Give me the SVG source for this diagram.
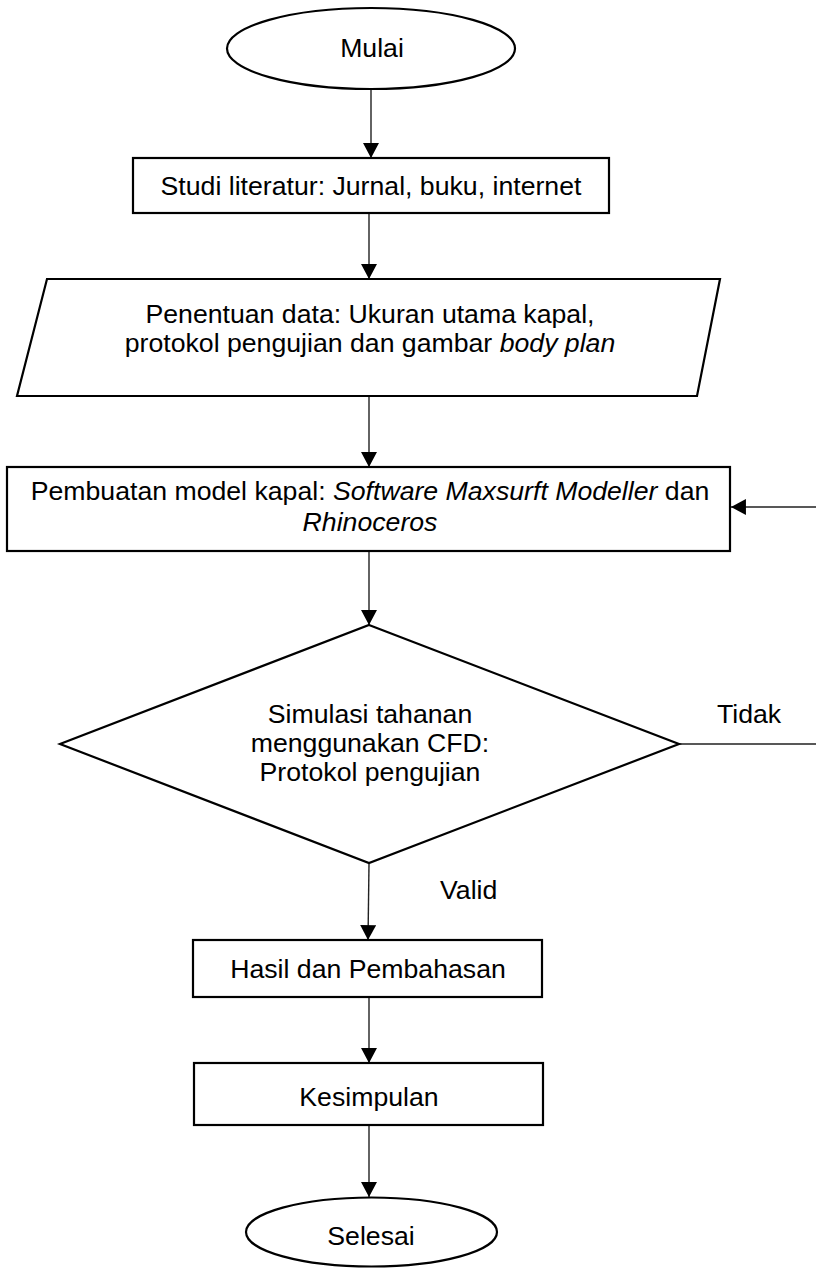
<svg xmlns="http://www.w3.org/2000/svg" width="816" height="1269" viewBox="0 0 816 1269">
  <style>
    .shape { fill: #ffffff; stroke: #000000; stroke-width: 2.2; }
    .label { font-family: "Liberation Sans", Arial, sans-serif; font-size: 26.67px; fill: #000000; text-anchor: middle; }
    .note { font-family: "Liberation Sans", Arial, sans-serif; font-size: 26.67px; fill: #000000; }
    .link { fill: none; stroke: #222222; stroke-width: 1.4; }
    .it { font-style: italic; }
  </style>
  <defs>
    <marker id="arrow" markerUnits="userSpaceOnUse" markerWidth="16" markerHeight="16" viewBox="0 0 14 15" refX="14" refY="7.5" orient="auto">
      <path d="M0,0 L14,7.5 L0,15 Z" fill="#000000"/>
    </marker>
  </defs>

  <rect x="0" y="0" width="816" height="1269" fill="#ffffff"/>

  <!-- connectors -->
  <g id="connectors">
    <path class="link" d="M371,89 L371,158" marker-end="url(#arrow)"/>
    <path class="link" d="M369,213 L369,279" marker-end="url(#arrow)"/>
    <path class="link" d="M369,396 L369,467" marker-end="url(#arrow)"/>
    <path class="link" d="M369,551 L369,625" marker-end="url(#arrow)"/>
    <path class="link" d="M369,864 L368,940" marker-end="url(#arrow)"/>
    <path class="link" d="M369,997 L369,1063" marker-end="url(#arrow)"/>
    <path class="link" d="M369,1125 L369,1197" marker-end="url(#arrow)"/>
    <path class="link" d="M679,744 L818,744 L818,507 L731,507" marker-end="url(#arrow)"/>
    <text class="note" x="717" y="723">Tidak</text>
    <text class="note" x="440" y="899">Valid</text>
  </g>

  <!-- start -->
  <g id="mulai">
    <ellipse class="shape" cx="371" cy="48.5" rx="144" ry="40.5"/>
    <text class="label" x="372" y="57">Mulai</text>
  </g>

  <!-- literature study -->
  <g id="studi">
    <rect class="shape" x="133" y="158" width="476" height="55"/>
    <text class="label" x="371" y="195">Studi literatur: Jurnal, buku, internet</text>
  </g>

  <!-- data input -->
  <g id="penentuan">
    <polygon class="shape" points="47,279 720,279 697,396 17,396"/>
    <text class="label" x="370" y="323">Penentuan data: Ukuran utama kapal,</text>
    <text class="label" x="370" y="352">protokol pengujian dan gambar <tspan class="it">body plan</tspan></text>
  </g>

  <!-- modelling -->
  <g id="pembuatan">
    <rect class="shape" x="7" y="467" width="723" height="84"/>
    <text class="label" x="370" y="500">Pembuatan model kapal: <tspan class="it">Software Maxsurft Modeller</tspan> dan</text>
    <text class="label it" x="370" y="531">Rhinoceros</text>
  </g>

  <!-- decision -->
  <g id="simulasi">
    <polygon class="shape" points="369,625 679,744 369,863 60,744"/>
    <text class="label" x="370" y="723">Simulasi tahanan</text>
    <text class="label" x="370" y="752">menggunakan CFD:</text>
    <text class="label" x="370" y="781">Protokol pengujian</text>
  </g>

  <!-- results -->
  <g id="hasil">
    <rect class="shape" x="193" y="940" width="349" height="57"/>
    <text class="label" x="368" y="978">Hasil dan Pembahasan</text>
  </g>

  <!-- conclusion -->
  <g id="kesimpulan">
    <rect class="shape" x="194" y="1063" width="349" height="62"/>
    <text class="label" x="369" y="1106">Kesimpulan</text>
  </g>

  <!-- end -->
  <g id="selesai">
    <ellipse class="shape" cx="371.5" cy="1232" rx="125.5" ry="34.5"/>
    <text class="label" x="371" y="1245">Selesai</text>
  </g>
</svg>
